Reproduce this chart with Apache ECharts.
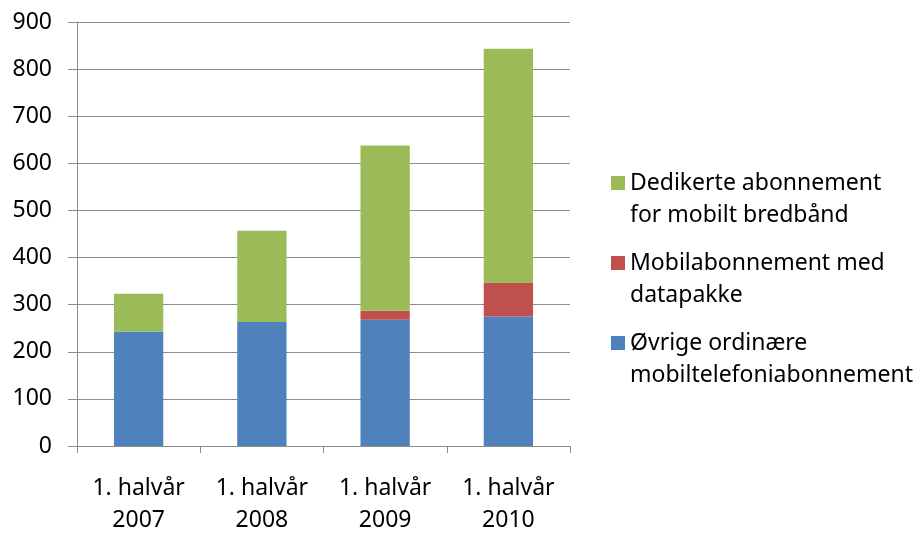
<!DOCTYPE html>
<html>
<head>
<meta charset="utf-8">
<script src="https://cdn.jsdelivr.net/npm/echarts@6/dist/echarts.min.js"></script>
<style>
  html, body { margin: 0; padding: 0; background: #fff; }
  #chart { width: 919px; height: 536px; }
</style>
</head>
<body>
<div id="chart"></div>
<script>
  // periods on the x axis
  var categories = ['1. halvår\n2007', '1. halvår\n2008', '1. halvår\n2009', '1. halvår\n2010'];
  // stacked values (thousands of subscriptions)
  var ordinary = [243, 263, 268, 275];
  var withData = [0, 0, 19, 71];
  var dedicated = [80, 194, 351, 497];

  var names = [
    'Øvrige ordinære\nmobiltelefoniabonnement',
    'Mobilabonnement med\ndatapakke',
    'Dedikerte abonnement\nfor mobilt bredbånd'
  ];
  var font = 'Noto Sans';

  var myChart = echarts.init(document.getElementById('chart'));
  var option = {
    backgroundColor: '#fff',
    animation: false,
    color: ['#4F81BD', '#C0504D', '#9BBB59'],
    grid: {
      left: 77,
      right: 349,
      top: 22,
      bottom: 86
    },
    legend: {
      orient: 'vertical',
      left: 611,
      top: 135,
      padding: 0,
      itemWidth: 14,
      itemHeight: 14,
      itemGap: -16,
      icon: 'rect',
      data: [names[2], names[1], names[0]],
      // blank first line keeps the square level with the first text line
      formatter: function (name) { return '\n' + name; },
      textStyle: {
        fontFamily: font,
        fontSize: 23,
        color: '#000',
        lineHeight: 32
      }
    },
    xAxis: {
      type: 'category',
      data: categories,
      axisLine: { lineStyle: { color: '#8c8c8c', width: 1 } },
      axisTick: { show: true, length: 7, alignWithLabel: false, lineStyle: { color: '#8c8c8c' } },
      axisLabel: {
        fontFamily: font,
        fontSize: 23,
        color: '#000',
        lineHeight: 32,
        margin: 26,
        interval: 0
      }
    },
    yAxis: {
      type: 'value',
      min: 0,
      max: 900,
      interval: 100,
      axisLine: { show: true, lineStyle: { color: '#8c8c8c', width: 1 } },
      axisTick: { show: true, length: 9, lineStyle: { color: '#8c8c8c' } },
      splitLine: { lineStyle: { color: '#8c8c8c', width: 1 } },
      axisLabel: {
        fontFamily: font,
        fontSize: 23,
        color: '#000',
        margin: 25
      }
    },
    series: [{
      name: names[0],
      type: 'bar',
      stack: 'total',
      barWidth: '40%',
      data: ordinary
    }, {
      name: names[1],
      type: 'bar',
      stack: 'total',
      data: withData
    }, {
      name: names[2],
      type: 'bar',
      stack: 'total',
      data: dedicated
    }]
  };
  myChart.setOption(option);
</script>
</body>
</html>
